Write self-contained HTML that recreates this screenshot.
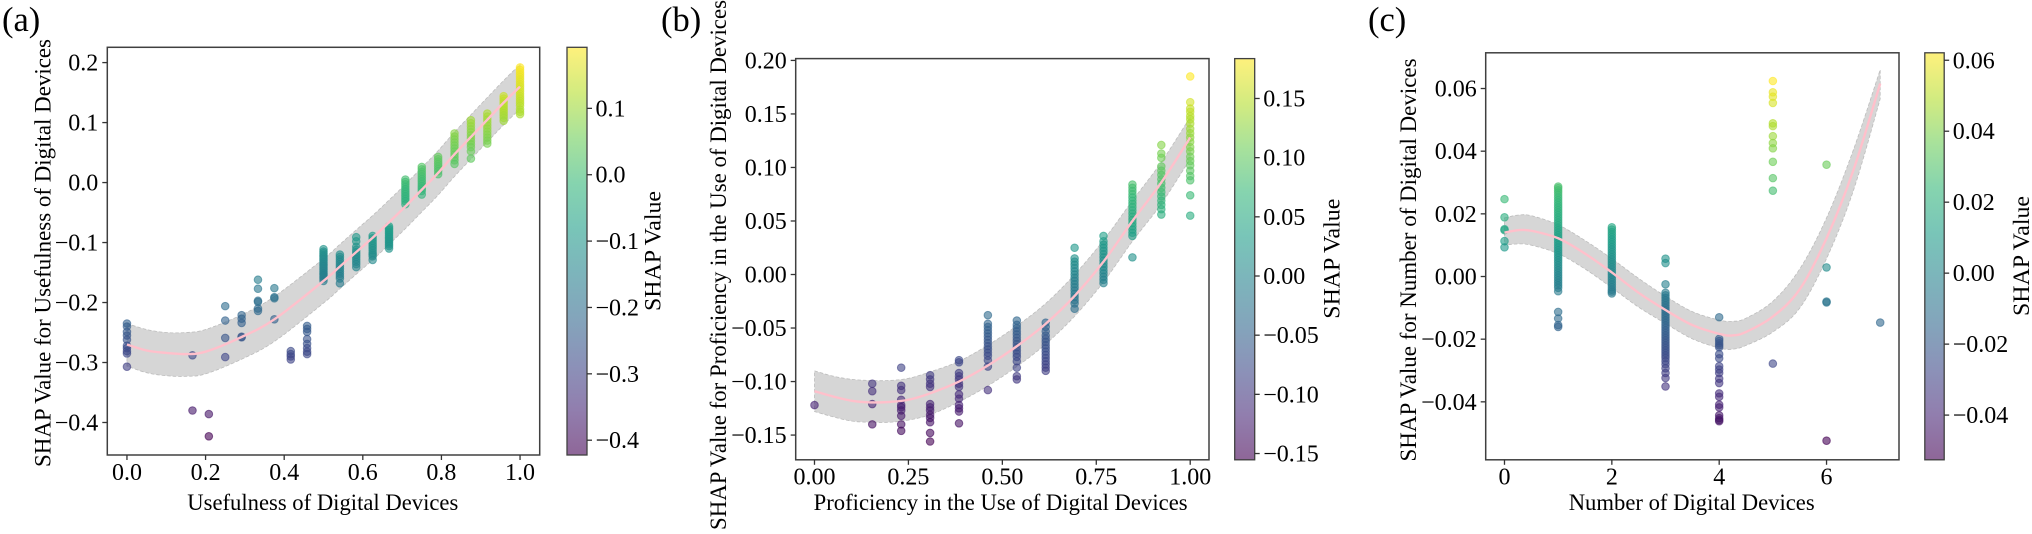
<!DOCTYPE html>
<html lang="en">
<head>
<meta charset="utf-8">
<title>SHAP dependence plots for digital devices</title>
<style>
html,body{margin:0;padding:0;background:#fff;width:2032px;height:534px;overflow:hidden}
svg{display:block;filter:blur(.35px)}
text{font-family:"Liberation Serif","Times New Roman",serif;fill:#000}
.tick{font-size:24px}
.title{font-size:22.8px}
.bartitle{font-size:23.4px}
.tag{font-size:34.5px}
</style>
</head>
<body>
<svg id="figure" xmlns="http://www.w3.org/2000/svg" width="2032" height="534" viewBox="0 0 2032 534">
  <defs>
    <linearGradient id="viridis-alpha" x1="0" y1="1" x2="0" y2="0"></linearGradient>
  </defs>
  <rect x="0" y="0" width="2032" height="534" fill="#fff"/>
  <g id="panel-a"></g>
  <g id="panel-b"></g>
  <g id="panel-c"></g>

  <text class="tag" x="2" y="31">(a)</text>
  <text class="tag" x="661" y="31">(b)</text>
  <text class="tag" x="1368" y="31">(c)</text>

  <text class="title" x="322.8" y="510" text-anchor="middle" textLength="271" lengthAdjust="spacingAndGlyphs">Usefulness of Digital Devices</text>
  <text class="title" transform="translate(50.5 253) rotate(-90)" text-anchor="middle" textLength="428" lengthAdjust="spacingAndGlyphs">SHAP Value for Usefulness of Digital Devices</text>
  <text class="bartitle" transform="translate(660.5 251) rotate(-90)" text-anchor="middle" textLength="120" lengthAdjust="spacingAndGlyphs">SHAP Value</text>

  <text class="title" x="1000.6" y="510" text-anchor="middle" textLength="374" lengthAdjust="spacingAndGlyphs">Proficiency in the Use of Digital Devices</text>
  <text class="title" transform="translate(726 265) rotate(-90)" text-anchor="middle" textLength="530" lengthAdjust="spacingAndGlyphs">SHAP Value for Proficiency in the Use of Digital Devices</text>
  <text class="bartitle" transform="translate(1339.5 258.7) rotate(-90)" text-anchor="middle" textLength="120" lengthAdjust="spacingAndGlyphs">SHAP Value</text>

  <text class="title" x="1691.7" y="510" text-anchor="middle" textLength="246" lengthAdjust="spacingAndGlyphs">Number of Digital Devices</text>
  <text class="title" transform="translate(1416 260) rotate(-90)" text-anchor="middle" textLength="403" lengthAdjust="spacingAndGlyphs">SHAP Value for Number of Digital Devices</text>
  <text class="bartitle" transform="translate(2029 256) rotate(-90)" text-anchor="middle" textLength="120" lengthAdjust="spacingAndGlyphs">SHAP Value</text>
</svg>
<script>
// ---------- Panel (a) data ----------
const aColumnX = [0, 0.1667, 0.2083, 0.25, 0.2917, 0.3333, 0.375, 0.4167, 0.4583, 0.5, 0.5417, 0.5833, 0.625, 0.6667, 0.7083, 0.75, 0.7917, 0.8333, 0.875, 0.9167, 0.9583, 1];
const aColumnY = [
  [-0.235, -0.24, -0.249, -0.255, -0.262, -0.272, -0.276, -0.281, -0.285, -0.307],
  [-0.288, -0.38],
  [-0.386, -0.423],
  [-0.206, -0.23, -0.259, -0.291],
  [-0.221, -0.227, -0.234, -0.257, -0.258],
  [-0.162, -0.177, -0.197, -0.199, -0.21, -0.214],
  [-0.176, -0.191, -0.193, -0.228],
  [-0.281, -0.286, -0.29, -0.295],
  [-0.239, -0.244, -0.249, -0.261, -0.269, -0.276, -0.282, -0.286],
  [-0.111, -0.115, -0.118, -0.121, -0.124, -0.127, -0.13, -0.133, -0.136, -0.139, -0.142, -0.145, -0.148, -0.151, -0.154, -0.157, -0.16, -0.164],
  [-0.12, -0.124, -0.128, -0.132, -0.136, -0.14, -0.144, -0.148, -0.152, -0.156, -0.16, -0.168],
  [-0.091, -0.098, -0.107, -0.112, -0.116, -0.12, -0.124, -0.128, -0.132, -0.136, -0.141],
  [-0.089, -0.093, -0.097, -0.101, -0.105, -0.109, -0.113, -0.117, -0.12, -0.123, -0.129],
  [-0.073, -0.076, -0.079, -0.082, -0.085, -0.088, -0.091, -0.094, -0.097, -0.1, -0.103, -0.106, -0.11],
  [0.005, 0.001, -0.003, -0.007, -0.011, -0.015, -0.019, -0.023, -0.027, -0.031, -0.036],
  [0.026, 0.022, 0.018, 0.014, 0.01, 0.006, 0.002, -0.002, -0.006, -0.01, -0.014, -0.02],
  [0.043, 0.039, 0.035, 0.031, 0.027, 0.023, 0.019, 0.014],
  [0.082, 0.077, 0.072, 0.067, 0.062, 0.057, 0.052, 0.047, 0.042, 0.037, 0.031],
  [0.104, 0.099, 0.094, 0.089, 0.084, 0.079, 0.074, 0.069, 0.064, 0.059, 0.052, 0.04],
  [0.115, 0.11, 0.105, 0.1, 0.095, 0.09, 0.085, 0.08, 0.075, 0.07, 0.065],
  [0.144, 0.14, 0.136, 0.132, 0.128, 0.124, 0.12, 0.116, 0.112, 0.108, 0.103],
  [0.192, 0.188, 0.184, 0.18, 0.176, 0.172, 0.168, 0.164, 0.16, 0.156, 0.152, 0.148, 0.144, 0.14, 0.136, 0.132, 0.128, 0.122, 0.118, 0.114]
];
const aFitX = [0, 0.05, 0.1, 0.15, 0.2, 0.29, 0.375, 0.5, 0.54, 0.583, 0.625, 0.667, 0.708, 0.75, 0.79, 0.833, 0.875, 0.917, 0.958, 1];
const aFitY = [-0.27, -0.28, -0.284, -0.286, -0.282, -0.258, -0.228, -0.164, -0.141, -0.116, -0.092, -0.066, -0.04, -0.012, 0.015, 0.047, 0.076, 0.105, 0.133, 0.16];
const aBandUpper = [-0.235, -0.245, -0.25, -0.25, -0.245, -0.221, -0.19, -0.127, -0.104, -0.079, -0.055, -0.029, -0.003, 0.025, 0.052, 0.084, 0.113, 0.142, 0.17, 0.197];
const aBandLower = [-0.306, -0.317, -0.322, -0.323, -0.319, -0.295, -0.265, -0.201, -0.178, -0.153, -0.129, -0.103, -0.077, -0.049, -0.022, 0.01, 0.039, 0.068, 0.096, 0.123];
const aXTickValues = [0, 0.2, 0.4, 0.6, 0.8, 1];
const aXTickLabels = ["0.0", "0.2", "0.4", "0.6", "0.8", "1.0"];
const aYTickValues = [0.2, 0.1, 0, -0.1, -0.2, -0.3, -0.4];
const aYTickLabels = ["0.2", "0.1", "0.0", "\u22120.1", "\u22120.2", "\u22120.3", "\u22120.4"];
const aBarTickValues = [0.1, 0, -0.1, -0.2, -0.3, -0.4];
const aBarTickLabels = ["0.1", "0.0", "\u22120.1", "\u22120.2", "\u22120.3", "\u22120.4"];
const aXDomain = [-0.05, 1.05];
const aYDomain = [-0.4542, 0.2255];
const aBarDomain = [-0.4223, 0.192];

// ---------- Panel (b) data ----------
const bColumnX = [0, 0.1538, 0.2308, 0.3077, 0.3846, 0.4615, 0.5385, 0.6154, 0.6923, 0.7692, 0.8462, 0.9231, 1];
const bColumnY = [
  [-0.122],
  [-0.102, -0.109, -0.121, -0.14],
  [-0.087, -0.104, -0.108, -0.117, -0.122, -0.124, -0.127, -0.132, -0.14, -0.146],
  [-0.094, -0.098, -0.102, -0.105, -0.121, -0.124, -0.127, -0.131, -0.134, -0.138, -0.148, -0.156],
  [-0.08, -0.082, -0.092, -0.095, -0.098, -0.102, -0.105, -0.112, -0.116, -0.122, -0.125, -0.128, -0.139],
  [-0.038, -0.046, -0.049, -0.052, -0.055, -0.058, -0.061, -0.064, -0.067, -0.07, -0.073, -0.076, -0.08, -0.086, -0.108],
  [-0.043, -0.047, -0.05, -0.053, -0.056, -0.059, -0.062, -0.065, -0.068, -0.071, -0.074, -0.077, -0.081, -0.087, -0.095, -0.098],
  [-0.045, -0.049, -0.053, -0.057, -0.06, -0.063, -0.066, -0.069, -0.072, -0.075, -0.078, -0.081, -0.084, -0.087, -0.09],
  [0.025, 0.015, 0.012, 0.009, 0.006, 0.003, 0, -0.003, -0.006, -0.009, -0.012, -0.015, -0.018, -0.021, -0.024, -0.027, -0.032],
  [0.036, 0.031, 0.028, 0.025, 0.022, 0.019, 0.016, 0.013, 0.01, 0.007, 0.004, 0.001, -0.002, -0.005, -0.008],
  [0.084, 0.081, 0.078, 0.075, 0.072, 0.069, 0.066, 0.063, 0.06, 0.057, 0.054, 0.051, 0.048, 0.045, 0.042, 0.039, 0.036, 0.016],
  [0.121, 0.113, 0.109, 0.101, 0.097, 0.093, 0.089, 0.085, 0.081, 0.077, 0.073, 0.069, 0.065, 0.061, 0.056],
  [0.185, 0.161, 0.155, 0.152, 0.148, 0.145, 0.141, 0.136, 0.132, 0.128, 0.124, 0.119, 0.115, 0.11, 0.106, 0.102, 0.097, 0.092, 0.088, 0.074, 0.055]
];
const bFitX = [0, 0.05, 0.1, 0.15, 0.2, 0.25, 0.3077, 0.3846, 0.4615, 0.5385, 0.6154, 0.6923, 0.7692, 0.8462, 0.9231, 1];
const bFitY = [-0.109, -0.114, -0.118, -0.1195, -0.119, -0.117, -0.111, -0.1, -0.085, -0.067, -0.046, -0.02, 0.012, 0.05, 0.086, 0.128];
const bBandUpper = [-0.09, -0.095, -0.098, -0.099, -0.099, -0.097, -0.091, -0.081, -0.066, -0.048, -0.027, 0, 0.032, 0.069, 0.105, 0.147];
const bBandLower = [-0.128, -0.133, -0.137, -0.138, -0.138, -0.136, -0.131, -0.119, -0.104, -0.086, -0.065, -0.039, -0.007, 0.031, 0.066, 0.108];
const bXTickValues = [0, 0.25, 0.5, 0.75, 1];
const bXTickLabels = ["0.00", "0.25", "0.50", "0.75", "1.00"];
const bYTickValues = [0.2, 0.15, 0.1, 0.05, 0, -0.05, -0.1, -0.15];
const bYTickLabels = ["0.20", "0.15", "0.10", "0.05", "0.00", "\u22120.05", "\u22120.10", "\u22120.15"];
const bBarTickValues = [0.15, 0.1, 0.05, 0, -0.05, -0.1, -0.15];
const bBarTickLabels = ["0.15", "0.10", "0.05", "0.00", "\u22120.05", "\u22120.10", "\u22120.15"];
const bXDomain = [-0.05, 1.05];
const bYDomain = [-0.1731, 0.2017];
const bBarDomain = [-0.1553, 0.1837];

// ---------- Panel (c) data ----------
const cColumnX = [0, 1, 2, 3, 4, 5, 6, 7];
const cColumnY = [
  [0.0247, 0.0189, 0.0151, 0.0148, 0.0113, 0.0093],
  [0.0287, 0.0282, 0.0275, 0.0268, 0.026, 0.0252, 0.0244, 0.0236, 0.0228, 0.022, 0.0212, 0.0204, 0.0196, 0.0188, 0.018, 0.0172, 0.0164, 0.0156, 0.0148, 0.014, 0.0132, 0.0124, 0.0116, 0.0108, 0.01, 0.0092, 0.0084, 0.0076, 0.0068, 0.006, 0.0052, 0.0044, 0.0036, 0.0028, 0.002, 0.0012, 0.0004, -0.0004, -0.0012, -0.002, -0.0028, -0.0036, -0.0047, -0.0113, -0.0134, -0.0155, -0.0161],
  [0.0157, 0.015, 0.0142, 0.0134, 0.0126, 0.0118, 0.011, 0.0102, 0.0094, 0.0086, 0.0078, 0.007, 0.0062, 0.0054, 0.0046, 0.0038, 0.003, 0.0022, 0.0014, 0.0006, -0.0002, -0.001, -0.0018, -0.0026, -0.0034, -0.0042, -0.0048, -0.0054],
  [0.0057, 0.0043, -0.0025, -0.0052, -0.006, -0.0068, -0.0076, -0.0084, -0.0092, -0.01, -0.0108, -0.0116, -0.0124, -0.0132, -0.014, -0.0148, -0.0156, -0.0164, -0.0172, -0.018, -0.0188, -0.0196, -0.0204, -0.0212, -0.022, -0.0228, -0.0236, -0.0244, -0.0252, -0.026, -0.027, -0.028, -0.0293, -0.0308, -0.0324, -0.0351],
  [-0.013, -0.0199, -0.0206, -0.0213, -0.022, -0.0226, -0.0248, -0.0261, -0.0286, -0.0297, -0.0308, -0.0326, -0.034, -0.0373, -0.0384, -0.0409, -0.0418, -0.0443, -0.0452, -0.0458, -0.0462],
  [0.0624, 0.0588, 0.0574, 0.0554, 0.0489, 0.048, 0.0448, 0.0426, 0.0409, 0.0366, 0.0314, 0.0274, -0.0278],
  [0.0357, 0.0029, -0.008, -0.0083, -0.0524],
  [-0.0147]
];
const cFitX = [0, 0.25, 0.5, 1, 1.5, 2, 2.5, 3, 3.5, 4, 4.25, 4.5, 5, 5.5, 6, 6.5, 7];
const cFitY = [0.014, 0.0148, 0.0146, 0.0122, 0.0073, 0.0013, -0.0052, -0.0107, -0.0155, -0.0183, -0.0188, -0.0177, -0.0128, -0.0041, 0.0122, 0.0339, 0.0616];
const cBandUpper = [0.0187, 0.0196, 0.0194, 0.0165, 0.0115, 0.0057, -0.0006, -0.0063, -0.0112, -0.0139, -0.0143, -0.0133, -0.0079, 0.0024, 0.0187, 0.0404, 0.066];
const cBandLower = [0.01, 0.0104, 0.01, 0.0073, 0.0024, -0.0036, -0.0098, -0.015, -0.0199, -0.0228, -0.0232, -0.022, -0.0177, -0.0101, 0.0057, 0.0274, 0.0567];
const cXTickValues = [0, 2, 4, 6];
const cXTickLabels = ["0", "2", "4", "6"];
const cYTickValues = [0.06, 0.04, 0.02, 0, -0.02, -0.04];
const cYTickLabels = ["0.06", "0.04", "0.02", "0.00", "\u22120.02", "\u22120.04"];
const cBarTickValues = [0.06, 0.04, 0.02, 0, -0.02, -0.04];
const cBarTickLabels = ["0.06", "0.04", "0.02", "0.00", "\u22120.02", "\u22120.04"];
const cXDomain = [-0.35, 7.35];
const cYDomain = [-0.0585, 0.0714];
const cBarDomain = [-0.0526, 0.0621];

// ---------- Colormap ----------
const viridisStops = ["#440154", "#482878", "#3e4989", "#31688e", "#26828e", "#1f9e89", "#35b779", "#6ece58", "#b5de2b", "#fde725"];

const SVGNS = "http://www.w3.org/2000/svg";

function mk(tag, parent, attrs, txt) {
  const el = document.createElementNS(SVGNS, tag);
  for (const k in attrs) el.setAttribute(k, attrs[k]);
  if (txt !== undefined) el.textContent = txt;
  parent.appendChild(el);
  return el;
}

function linearScale(domain, r0, r1) {
  return function (v) {
    return r0 + (v - domain[0]) / (domain[1] - domain[0]) * (r1 - r0);
  };
}

function hexToRgb(h) {
  return [parseInt(h.slice(1, 3), 16), parseInt(h.slice(3, 5), 16), parseInt(h.slice(5, 7), 16)];
}

function viridisAt(t) {
  const c = Math.max(0, Math.min(1, t)) * (viridisStops.length - 1);
  const i = Math.min(viridisStops.length - 2, Math.floor(c));
  const f = c - i;
  const p = hexToRgb(viridisStops[i]);
  const q = hexToRgb(viridisStops[i + 1]);
  const m = [0, 1, 2].map(function (n) { return Math.round(p[n] + (q[n] - p[n]) * f); });
  return "rgb(" + m.join(",") + ")";
}

function smoothSegments(pts) {
  let d = "";
  for (let i = 0; i < pts.length - 1; i++) {
    const p0 = pts[Math.max(0, i - 1)];
    const p1 = pts[i];
    const p2 = pts[i + 1];
    const p3 = pts[Math.min(pts.length - 1, i + 2)];
    d += "C" + (p1[0] + (p2[0] - p0[0]) / 6).toFixed(2) + " " + (p1[1] + (p2[1] - p0[1]) / 6).toFixed(2) + " " +
      (p2[0] - (p3[0] - p1[0]) / 6).toFixed(2) + " " + (p2[1] - (p3[1] - p1[1]) / 6).toFixed(2) + " " +
      p2[0].toFixed(2) + " " + p2[1].toFixed(2);
  }
  return d;
}

const grad = document.getElementById("viridis-alpha");
viridisStops.forEach(function (col, i) {
  mk("stop", grad, { offset: (i / (viridisStops.length - 1)).toFixed(3), "stop-color": col, "stop-opacity": "0.6" });
});

function drawPanel(id, box, bar, xDomain, yDomain, barDomain, columnX, columnY, fitX, fitY, bandUpper, bandLower,
                   xTickValues, xTickLabels, yTickValues, yTickLabels, barTickValues, barTickLabels) {
  const g = document.getElementById(id);
  const sx = linearScale(xDomain, box.left, box.right);
  const sy = linearScale(yDomain, box.bottom, box.top);
  const sb = linearScale(barDomain, box.bottom, box.top);
  const norm = function (v) { return (v - barDomain[0]) / (barDomain[1] - barDomain[0]); };

  // confidence band
  const upperPts = fitX.map(function (x, i) { return [sx(x), sy(bandUpper[i])]; });
  const lowerPts = fitX.map(function (x, i) { return [sx(x), sy(bandLower[i])]; }).reverse();
  const bandPath = "M" + upperPts[0][0].toFixed(2) + " " + upperPts[0][1].toFixed(2) + smoothSegments(upperPts) +
    "L" + lowerPts[0][0].toFixed(2) + " " + lowerPts[0][1].toFixed(2) + smoothSegments(lowerPts) + "Z";
  const band = mk("path", g, { d: bandPath, fill: "#d6d6d6", stroke: "#bdbdbd", "stroke-width": "0.8", "stroke-dasharray": "3.5 2" });
  
  

  // scatter points
  columnX.forEach(function (x, c) {
    columnY[c].forEach(function (y) {
      const col = viridisAt(norm(y));
      const dot = mk("circle", g, { cx: sx(x).toFixed(2), cy: sy(y).toFixed(2), r: "3.8", fill: col, stroke: col, "stroke-width": "1", "fill-opacity": "0.6", "stroke-opacity": "0.6" });
      
      
    });
  });

  // fit line
  const fitPts = fitX.map(function (x, i) { return [sx(x), sy(fitY[i])]; });
  const fit = mk("path", g, { d: "M" + fitPts[0][0].toFixed(2) + " " + fitPts[0][1].toFixed(2) + smoothSegments(fitPts), fill: "none", stroke: "#ffc0cb", "stroke-width": "2.4" });
  
  

  // axes frame
  const frame = mk("rect", g, { x: box.left, y: box.top, width: box.right - box.left, height: box.bottom - box.top, fill: "none", stroke: "#404040", "stroke-width": "1.5" });
  
  

  // x ticks
  xTickValues.forEach(function (v, i) {
    const px = sx(v);
    const t = mk("line", g, { x1: px, x2: px, y1: box.bottom, y2: box.bottom + 5, stroke: "#333", "stroke-width": "1.3" });
    
    
    const l = mk("text", g, { class: "tick", x: px, y: box.xLabelY, "text-anchor": "middle" }, xTickLabels[i]);
    
    
  });

  // y ticks
  yTickValues.forEach(function (v, i) {
    const py = sy(v);
    const t = mk("line", g, { x1: box.left - 5, x2: box.left, y1: py, y2: py, stroke: "#333", "stroke-width": "1.3" });
    
    
    const l = mk("text", g, { class: "tick", x: box.left - 9, y: py + 8, "text-anchor": "end" }, yTickLabels[i]);
    
    
  });

  // colorbar
  const cb = mk("rect", g, { x: bar.left, y: box.top, width: bar.right - bar.left, height: box.bottom - box.top, fill: "url(#viridis-alpha)", stroke: "#404040", "stroke-width": "1.3" });
  
  
  barTickValues.forEach(function (v, i) {
    const py = sb(v);
    const t = mk("line", g, { x1: bar.right, x2: bar.right + 5, y1: py, y2: py, stroke: "#333", "stroke-width": "1.3" });
    
    
    const l = mk("text", g, { class: "tick", x: bar.right + 8.5, y: py + 8 }, barTickLabels[i]);
    
    
  });
}

drawPanel("panel-a",
  { left: 107.3, right: 539.7, top: 47.3, bottom: 455, xLabelY: 480.2 },
  { left: 567, right: 587 },
  aXDomain, aYDomain, aBarDomain, aColumnX, aColumnY, aFitX, aFitY, aBandUpper, aBandLower,
  aXTickValues, aXTickLabels, aYTickValues, aYTickLabels, aBarTickValues, aBarTickLabels);

drawPanel("panel-b",
  { left: 795.7, right: 1209, top: 58.6, bottom: 459.8, xLabelY: 484.3 },
  { left: 1234.7, right: 1254.7 },
  bXDomain, bYDomain, bBarDomain, bColumnX, bColumnY, bFitX, bFitY, bBandUpper, bBandLower,
  bXTickValues, bXTickLabels, bYTickValues, bYTickLabels, bBarTickValues, bBarTickLabels);

drawPanel("panel-c",
  { left: 1485.7, right: 1899, top: 52.8, bottom: 459.8, xLabelY: 484.3 },
  { left: 1924.8, right: 1944.2 },
  cXDomain, cYDomain, cBarDomain, cColumnX, cColumnY, cFitX, cFitY, cBandUpper, cBandLower,
  cXTickValues, cXTickLabels, cYTickValues, cYTickLabels, cBarTickValues, cBarTickLabels);
</script>
</body>
</html>
